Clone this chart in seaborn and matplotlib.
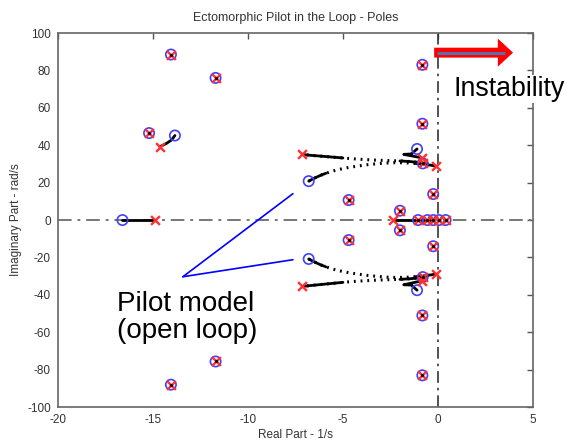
import matplotlib
matplotlib.use("Agg")
import matplotlib.pyplot as plt
import seaborn as sns
import pandas as pd
from matplotlib.patches import FancyArrow

# ---------------- data ----------------
title = "Ectomorphic Pilot in the Loop - Poles"
xlabel = "Real Part - 1/s"
ylabel = "Imaginary Part - rad/s"
x_ticks = [-20, -15, -10, -5, 0, 5]
y_ticks = [-100, -80, -60, -40, -20, 0, 20, 40, 60, 80, 100]

# poles where open-loop and closed-loop coincide
both_re = [-14.05, -11.7, -15.2, -0.82, -0.82, -4.7, -4.7, -0.25, -0.25, -2.0, -2.0,
           -0.8, -0.8, -1.05, -0.55, -0.25, 0.05, 0.4, -0.82, -0.82, -11.7, -14.05]
both_im = [88.5, 76.0, 46.5, 83.0, 51.5, 10.7, -10.7, 13.9, -14.0, 5.0, -5.5,
           30.3, -30.5, 0.0, 0.0, 0.0, 0.0, 0.0, -51.0, -83.0, -75.6, -88.0]

# open-loop only poles (blue circles)
open_re = [-16.6, -13.84, -6.8, -6.8, -1.1, -1.1]
open_im = [0.0, 45.2, 20.8, -20.8, 38.0, -37.5]

# closed-loop only poles (red crosses)
closed_re = [-14.9, -14.63, -7.14, -7.14, -0.86, -0.86, -0.12, -0.12, -2.35]
closed_im = [0.0, 39.2, 35.1, -35.5, 33.3, -32.5, 28.9, -28.9, 0.0]

# root-locus trajectories
loc1_re = [-16.6, -14.9]
loc1_im = [0.0, 0.0]
loc2_re = [-13.84, -14.02, -14.28, -14.63]
loc2_im = [45.2, 42.8, 41.0, 39.2]
loc3_re = [-2.35, -0.25]
loc3_im = [0.0, 0.0]
loc4_re = [-6.8, -6.5, -6.2, -5.9, -5.5, -5.1, -4.7, -4.2, -3.7, -3.2, -2.7, -2.2, -1.7, -1.2, -0.8, -0.5, -0.3, -0.12]
loc4_im = [20.8, 22.4, 23.8, 25.0, 26.3, 27.3, 28.1, 28.9, 29.6, 30.1, 30.5, 30.7, 30.6, 30.3, 29.9, 29.5, 29.2, 28.9]
loc5_re = [-0.8, -1.1, -1.5, -2.0, -2.6, -3.2, -3.8, -4.4, -5.0, -5.6, -6.2, -6.7, -7.14]
loc5_im = [30.3, 30.9, 31.3, 31.6, 31.8, 32.0, 32.3, 32.7, 33.2, 33.7, 34.2, 34.6, 35.1]
loc6_re = [-1.1, -1.4, -1.8, -1.4, -0.86]
loc6_im = [38.0, 36.5, 35.1, 34.2, 33.3]
loc7_re = [-6.8, -6.5, -6.2, -5.9, -5.5, -5.1, -4.7, -4.2, -3.7, -3.2, -2.7, -2.2, -1.7, -1.2, -0.8, -0.5, -0.3, -0.12]
loc7_im = [-20.8, -22.4, -23.8, -25.0, -26.3, -27.3, -28.1, -28.9, -29.6, -30.1, -30.5, -30.7, -30.6, -30.3, -29.9, -29.5, -29.2, -28.9]
loc8_re = [-0.8, -1.1, -1.5, -2.0, -2.6, -3.2, -3.8, -4.4, -5.0, -5.6, -6.2, -6.7, -7.14]
loc8_im = [-30.5, -31.0, -31.4, -31.7, -31.9, -32.1, -32.4, -32.8, -33.3, -33.9, -34.5, -35.0, -35.5]
loc9_re = [-1.1, -1.4, -1.8, -1.4, -0.86]
loc9_im = [-37.5, -36.0, -34.6, -33.5, -32.5]

# ---------------- plot ----------------
sns.set_theme(style="white")
plt.rcParams["font.family"] = ["Liberation Sans", "DejaVu Sans"]

fig = plt.figure(figsize=(5.67, 4.43), dpi=100)
ax = fig.add_axes([0.102, 0.081, 0.838, 0.8445])

# reference lines
ax.axhline(0, color="#777777", lw=1.4, ls=(0, (7, 3, 1.5, 3)), zorder=1)
ax.axvline(0, color="#333333", lw=1.2, ls=(0, (7, 3, 1.5, 3)), zorder=1)

loci = [(loc1_re, loc1_im), (loc2_re, loc2_im), (loc3_re, loc3_im), (loc4_re, loc4_im),
        (loc5_re, loc5_im), (loc6_re, loc6_im), (loc7_re, loc7_im), (loc8_re, loc8_im),
        (loc9_re, loc9_im)]
for re, im in loci:
    df = pd.DataFrame({"re": re, "im": im})
    if len(re) > 6:
        sns.lineplot(data=df, x="re", y="im", sort=False, ax=ax, color="black",
                     lw=2.2, ls=(0, (0.6, 1.6)), zorder=2)
        sns.lineplot(data=df.iloc[:4], x="re", y="im", sort=False, ax=ax, color="black", lw=2.0, zorder=2)
        sns.lineplot(data=df.iloc[-5:], x="re", y="im", sort=False, ax=ax, color="black", lw=2.0, zorder=2)
    else:
        sns.lineplot(data=df, x="re", y="im", sort=False, ax=ax, color="black", lw=2.0, zorder=2)

ol = pd.DataFrame({"re": both_re + open_re, "im": both_im + open_im})
cl = pd.DataFrame({"re": both_re + closed_re, "im": both_im + closed_im})
bt = pd.DataFrame({"re": both_re, "im": both_im})

sns.scatterplot(data=ol, x="re", y="im", ax=ax, marker="o", s=55, facecolor="none",
                edgecolor="#4040ff", linewidth=1.2, zorder=3)
sns.scatterplot(data=cl, x="re", y="im", ax=ax, marker="x", s=40, color="#ff3030",
                linewidth=1.7, zorder=4)
sns.scatterplot(data=bt, x="re", y="im", ax=ax, marker="o", s=5, color="black",
                linewidth=0, zorder=5)

ax.set_xlim(-20, 5)
ax.set_ylim(-100, 100)
ax.set_xticks(x_ticks)
ax.set_yticks(y_ticks)
ax.set_xticklabels([str(v) for v in x_ticks])
ax.set_yticklabels([str(v) for v in y_ticks])
ax.tick_params(direction="in", length=4, width=1, top=True, right=True,
               labelsize=8.5, labelcolor="#333333", color="#555555", pad=5)
for s in ax.spines.values():
    s.set_color("#666666")
    s.set_linewidth(1.2)

ax.set_title(title, fontsize=9, color="#333333", pad=9)
ax.set_xlabel(xlabel, fontsize=8.5, color="#333333", labelpad=2)
ax.set_ylabel(ylabel, fontsize=8.5, color="#333333", labelpad=4)

# annotations
arrow = FancyArrow(-0.2, 89.5, 3.35, 0, width=5.3, head_width=15, head_length=0.8,
                   length_includes_head=False, color="#ff0000", lw=0, zorder=6)
ax.add_patch(arrow)
ax.plot([-0.05, 3.55], [89.5, 89.5], color="#5a6fa8", lw=2.2, zorder=7, solid_capstyle="butt")

ax.text(0.8, 70.0, "Instability", fontsize=19.3, color="black", va="center", ha="left",
        zorder=8, clip_on=False, bbox=dict(facecolor="white", edgecolor="none", pad=1))

ax.plot([-13.42, -7.63], [-30.3, 14.1], color="#0000ff", lw=1.2, zorder=6)
ax.plot([-13.42, -7.63], [-30.3, -21.2], color="#0000ff", lw=1.2, zorder=6)
ax.text(-16.9, -52.0, "Pilot model\n(open loop)", fontsize=20, color="black",
        va="center", ha="left", linespacing=1.05, zorder=8)

fig.savefig("out.png", dpi=100)
